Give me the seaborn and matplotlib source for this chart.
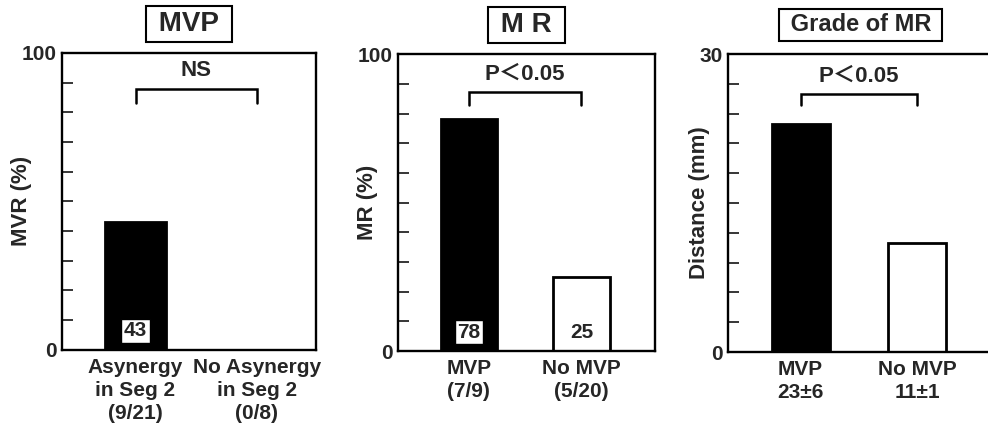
import matplotlib

matplotlib.use("Agg")
import matplotlib.pyplot as plt
import numpy as np
import pandas as pd
import seaborn as sns

# panel 1: MVR by asynergy in segment 2
mvp_groups = ["Asynergy\nin Seg 2\n(9/21)", "No Asynergy\nin Seg 2\n(0/8)"]
mvp_values = [43, 0]
mvp_labels = ["43", ""]

# panel 2: MR by MVP
mr_groups = ["MVP\n(7/9)", "No MVP\n(5/20)"]
mr_values = [78, 25]
mr_labels = ["78", "25"]

# panel 3: grade of MR (distance, mm)
grade_groups = ["MVP\n23±6", "No MVP\n11±1"]
grade_values = [23, 11]
grade_labels = ["", ""]

titles = ["MVP", "M R", "Grade of MR"]
title_sizes = [20, 20, 17]
ylabels = ["MVR (%)", "MR (%)", "Distance (mm)"]
ymaxes = [100, 100, 30]
sig_texts = ["NS", "P＜0.05", "P＜0.05"]

BAR_COLORS = ["black", "white"]
FONT = ["Liberation Sans", "DejaVu Sans"]

sns.set_theme(style="ticks")
plt.rcParams["font.family"] = FONT
plt.rcParams["font.weight"] = "bold"

fig = plt.figure(figsize=(9.88, 4.33), dpi=100)

# axes rectangles in figure fractions
rects = [
    [0.0628, 0.192, 0.257, 0.686],
    [0.4028, 0.189, 0.260, 0.686],
    [0.737, 0.187, 0.268, 0.688],
]
xlims = [(-0.605, 1.486), (-0.631, 1.653), (-0.622, 1.65)]
bracket_y = [(0.879, 0.83), (0.872, 0.83), (0.865, 0.83)]
label_x = [-0.12, -0.078, -0.068]

panels = [
    (mvp_groups, mvp_values, mvp_labels),
    (mr_groups, mr_values, mr_labels),
    (grade_groups, grade_values, grade_labels),
]

for i, (groups, values, labels) in enumerate(panels):
    ax = fig.add_axes(rects[i])
    df = pd.DataFrame({"group": groups, "value": values})
    sns.barplot(
        data=df,
        x="group",
        y="value",
        hue="group",
        palette=BAR_COLORS,
        width=0.5,
        edgecolor="black",
        linewidth=2,
        legend=False,
        ax=ax,
    )
    ymax = ymaxes[i]
    ax.set_ylim(0, ymax)
    ax.set_xlim(*xlims[i])

    ticks = np.linspace(0, ymax, 11)
    ax.set_yticks(ticks)
    ax.set_yticklabels(
        [f"{ticks[0]:.0f}"] + [""] * 9 + [f"{ticks[-1]:.0f}"],
        fontsize=15,
        fontweight="bold",
    )
    ax.tick_params(axis="y", direction="in", length=8, width=1.3, pad=4)
    ax.tick_params(axis="x", length=0, pad=6)
    ax.set_xticks(range(len(groups)))
    ax.set_xticklabels(groups, fontsize=15, fontweight="bold", linespacing=1.25)

    for side in ["left", "bottom", "top", "right"]:
        ax.spines[side].set_visible(True)
        ax.spines[side].set_linewidth(1.7)
        ax.spines[side].set_color("black")
    if i == 2:
        ax.spines["right"].set_visible(False)

    ax.set_xlabel("")
    ax.set_ylabel(ylabels[i], fontsize=16, fontweight="bold")
    ax.yaxis.set_label_coords(label_x[i], 0.5)

    # value labels at bar bottoms
    for j, lab in enumerate(labels):
        if not lab:
            continue
        box = None
        if BAR_COLORS[j] == "black":
            box = dict(boxstyle="square,pad=0.12", fc="white", ec="black", lw=1)
        ax.text(
            j, ymax * 0.064, lab, ha="center", va="center", fontsize=15,
            fontweight="bold", bbox=box,
        )

    # significance bracket
    top, bot = bracket_y[i]
    ax.plot([0, 0, 1, 1], [bot * ymax, top * ymax, top * ymax, bot * ymax],
            color="black", lw=1.8, solid_joinstyle="miter")
    ax.text(0.5, (top + 0.025) * ymax, sig_texts[i], ha="center", va="bottom",
            fontsize=16, fontweight="bold",
            family=["Liberation Sans", "Noto Sans CJK JP"])

    ax.text(0.5, 1.098, f" {titles[i]} ", transform=ax.transAxes, ha="center",
            va="center", fontsize=title_sizes[i], fontweight="bold",
            bbox=dict(boxstyle="square,pad=0.18", fc="white", ec="black", lw=1.5))

fig.savefig("out.png", dpi=100)
